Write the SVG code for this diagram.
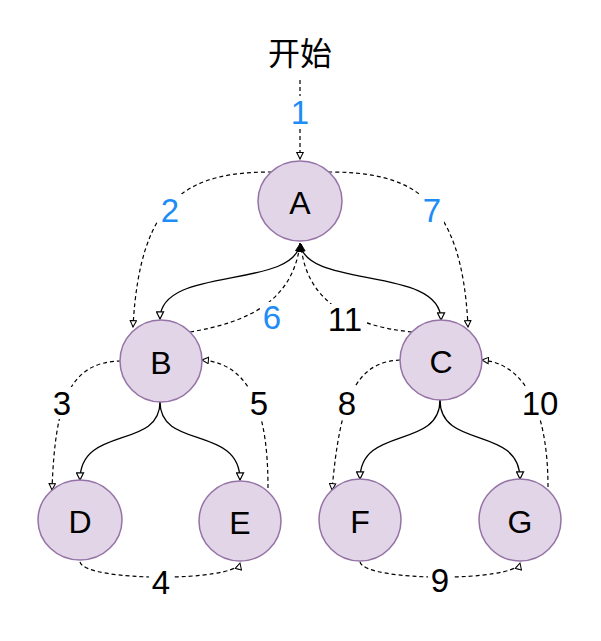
<svg xmlns="http://www.w3.org/2000/svg" width="601" height="641" viewBox="0 0 601 641">
<style>
.node{fill:#e1d5e7;stroke:#9673a6;stroke-width:1.5}
.nt{font-family:"Liberation Sans",Arial,sans-serif;font-size:32px;fill:#000;text-anchor:middle;dominant-baseline:central}
.lb{font-family:"Liberation Sans",Arial,sans-serif;font-size:33px;fill:#000;text-anchor:middle;dominant-baseline:central}
.blue{fill:#1e8cf5}
.solid{fill:none;stroke:#000;stroke-width:1.3;marker-end:url(#open)}
.dash{fill:none;stroke:#000;stroke-width:1.2;stroke-dasharray:4 3;marker-end:url(#tri)}
.dashf{fill:none;stroke:#000;stroke-width:1.2;stroke-dasharray:4 3;marker-end:url(#fill)}
</style>
<defs>
<marker id="open" viewBox="0 0 10 10" refX="9" refY="5" markerWidth="9" markerHeight="9" markerUnits="userSpaceOnUse" orient="auto">
<path d="M1 1 L9 5 L1 9 Z" fill="#fff" stroke="#000" stroke-width="1.3"/>
</marker>
<marker id="tri" viewBox="0 0 10 10" refX="9" refY="5" markerWidth="8" markerHeight="8" markerUnits="userSpaceOnUse" orient="auto">
<path d="M1 1 L9 5 L1 9 Z" fill="#fff" stroke="#000" stroke-width="1.3"/>
</marker>
<marker id="fill" viewBox="0 0 10 10" refX="9" refY="5" markerWidth="9" markerHeight="9" markerUnits="userSpaceOnUse" orient="auto">
<path d="M1 1 L9 5 L1 9 Z" fill="#000" stroke="#000" stroke-width="1"/>
</marker>
</defs>
<g id="connectors">
<line class="dash" x1="300" y1="80" x2="300" y2="159"/>
<path class="solid" d="M300 243 C295 290,160 265,160 319"/>
<path class="solid" d="M300 243 C305 290,441 265,441 320"/>
<path class="solid" d="M160 402 C160 450,80 425,80 480"/>
<path class="solid" d="M160 402 C160 450,240 425,240 480"/>
<path class="solid" d="M440 400 C440 450,360 425,360 479"/>
<path class="solid" d="M440 400 C440 450,520 425,520 479"/>
<path class="dash" d="M272 172 C190 172,140 195,133 327"/>
<path class="dash" d="M328 172 C410 172,462 195,468 327"/>
<path class="dashf" d="M190 332 C250 322,293 300,300 244"/>
<path class="dashf" d="M412 332 C350 326,305 300,301 244"/>
<path class="dash" d="M121 361 C70 362,55 400,52 490"/>
<path class="dash" d="M268 488 C268 420,255 364,202 360"/>
<path class="dash" d="M400 360 C355 362,340 400,332 490"/>
<path class="dash" d="M548 487 C548 420,530 364,482 360"/>
<path class="dash" d="M80 562 C85 582,235 582,240 563"/>
<path class="dash" d="M360 562 C365 582,515 582,520 563"/>
</g>
<g id="labels">
<text class="lb" x="300" y="51" style="font-family:'Noto Sans CJK SC',sans-serif;font-size:32px">开始</text>
<rect x="290" y="96" width="20" height="32" fill="#fff"/>
<text class="lb blue" x="300" y="112">1</text>
<rect x="158" y="194" width="24" height="32" fill="#fff"/>
<text class="lb blue" x="170" y="210">2</text>
<rect x="420" y="194" width="24" height="32" fill="#fff"/>
<text class="lb blue" x="432" y="210">7</text>
<rect x="260" y="302" width="24" height="32" fill="#fff"/>
<text class="lb blue" x="272" y="317">6</text>
<rect x="323" y="304" width="44" height="32" fill="#fff"/>
<text class="lb" x="345" y="319">11</text>
<rect x="50" y="387" width="24" height="32" fill="#fff"/>
<text class="lb" x="62" y="403">3</text>
<rect x="247" y="387" width="24" height="32" fill="#fff"/>
<text class="lb" x="259" y="403">5</text>
<rect x="335" y="387" width="24" height="32" fill="#fff"/>
<text class="lb" x="347" y="403">8</text>
<rect x="518" y="387" width="44" height="32" fill="#fff"/>
<text class="lb" x="540" y="403">10</text>
<rect x="149" y="566" width="24" height="32" fill="#fff"/>
<text class="lb" x="161" y="582">4</text>
<rect x="428" y="564" width="24" height="32" fill="#fff"/>
<text class="lb" x="440" y="580">9</text>
</g>
<g id="A"><ellipse class="node" cx="300" cy="201" rx="42" ry="40"/><text class="nt" x="300" y="203">A</text></g>
<g id="B"><ellipse class="node" cx="161" cy="361" rx="41" ry="41"/><text class="nt" x="161" y="363">B</text></g>
<g id="C"><ellipse class="node" cx="441" cy="360" rx="41" ry="40"/><text class="nt" x="441" y="362">C</text></g>
<g id="D"><ellipse class="node" cx="80" cy="520" rx="42" ry="40"/><text class="nt" x="80" y="522">D</text></g>
<g id="E"><ellipse class="node" cx="240" cy="521" rx="41" ry="40"/><text class="nt" x="240" y="523">E</text></g>
<g id="F"><ellipse class="node" cx="360" cy="520" rx="41" ry="41"/><text class="nt" x="360" y="522">F</text></g>
<g id="G"><ellipse class="node" cx="520" cy="520" rx="41" ry="41"/><text class="nt" x="520" y="522">G</text></g>
</svg>
